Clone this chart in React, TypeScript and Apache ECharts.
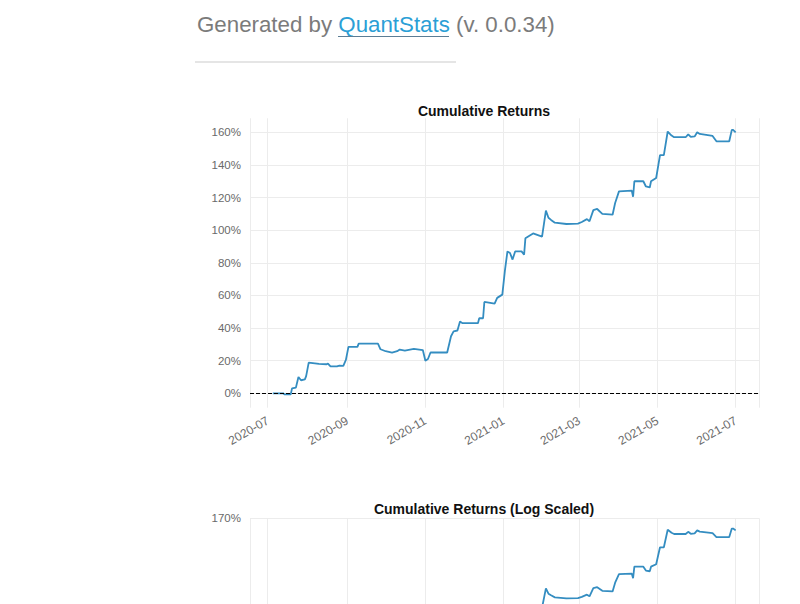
import React, { useEffect, useRef } from "react";
import * as echarts from "echarts";

// ---- data ----
const dates: string[] = [
  "2020-07-05", "2020-07-13", "2020-07-14", "2020-07-19", "2020-07-20", "2020-07-23",
  "2020-07-25", "2020-07-27", "2020-07-30", "2020-07-31", "2020-08-02", "2020-08-10",
  "2020-08-16", "2020-08-17", "2020-08-19", "2020-08-24", "2020-08-26", "2020-08-29",
  "2020-08-31", "2020-09-02", "2020-09-09", "2020-09-10", "2020-09-25", "2020-09-27",
  "2020-10-01", "2020-10-06", "2020-10-10", "2020-10-12", "2020-10-16", "2020-10-20",
  "2020-10-23", "2020-10-30", "2020-11-01", "2020-11-03", "2020-11-05", "2020-11-18",
  "2020-11-21", "2020-11-23", "2020-11-26", "2020-11-28", "2020-11-30", "2020-12-12",
  "2020-12-13", "2020-12-16", "2020-12-17", "2020-12-25", "2020-12-27", "2020-12-31",
  "2021-01-02", "2021-01-04", "2021-01-06", "2021-01-08", "2021-01-10", "2021-01-15",
  "2021-01-17", "2021-01-18", "2021-01-24", "2021-01-31", "2021-02-03", "2021-02-05",
  "2021-02-07", "2021-02-10", "2021-02-19", "2021-02-28", "2021-03-03", "2021-03-07",
  "2021-03-09", "2021-03-12", "2021-03-15", "2021-03-19", "2021-03-27", "2021-03-29",
  "2021-04-01", "2021-04-11", "2021-04-12", "2021-04-13", "2021-04-20", "2021-04-22",
  "2021-04-25", "2021-04-26", "2021-04-30", "2021-05-03", "2021-05-06", "2021-05-09",
  "2021-05-12", "2021-05-14", "2021-05-23", "2021-05-25", "2021-05-27", "2021-05-30",
  "2021-06-01", "2021-06-03", "2021-06-13", "2021-06-16", "2021-06-26", "2021-06-28",
  "2021-06-29", "2021-07-01",
];

const cumulativeReturns: number[] = [
  0, 0, -0.6, -0.6, 3, 3.5,
  10, 8, 8.5, 10.5, 18.8, 18,
  17.8, 18.2, 16.5, 16.5, 17, 16.8,
  20.5, 28.5, 28.5, 30.5, 30.5, 27,
  25.8, 25, 25.8, 26.8, 26.2, 26.8,
  27.2, 26.5, 20, 21, 25, 25,
  35, 38, 38.5, 44, 43, 43,
  46, 46, 56, 55, 58.5, 60.5,
  75, 87, 86, 82, 87, 87,
  85, 95, 98, 96, 112, 107.6,
  106.3, 104.6, 103.8, 104, 105, 106.8,
  105.5, 112.3, 113, 110, 109.5, 116.7,
  123.8, 124.2, 120.5, 130, 130, 126.8,
  126.2, 130, 132, 146, 146, 160.5,
  158, 157, 157, 158.8, 157.2, 157.5,
  160, 159, 157.8, 154.5, 154.5, 161.5,
  161.5, 160,
];

const headerParts = ["Generated by ", "QuantStats", " (v. 0.0.34)"];
const chartTitles = ["Cumulative Returns", "Cumulative Returns (Log Scaled)"];
const xRange = ["2020-06-17 05:00", "2021-07-19 05:00"];
const topYRange = [-8.83, 168.6];
const bottomYRange = [0, 170];
const bottomYInterval = 170;

const LINE_COLOR = "#348dc1";
const GRID_COLOR = "#ececec";
const LABEL_COLOR = "#6a6a6a";
const FONT = "'Liberation Sans', Arial, Helvetica, sans-serif";

export default function App() {
  const ref = useRef<HTMLDivElement>(null);

  useEffect(() => {
    if (!ref.current) return;
    const chart = echarts.init(ref.current, undefined, { renderer: "svg" });
    const seriesData = dates.map((d, i) => [d, cumulativeReturns[i]]);

    const xAxisCommon = (gridIndex: number, showLabels: boolean) => ({
      type: "time" as const,
      gridIndex,
      min: xRange[0],
      max: xRange[1],
      splitNumber: 5,
      axisLine: { show: false },
      axisTick: { show: false },
      axisLabel: {
        show: showLabels,
        rotate: 30,
        margin: 12,
        color: LABEL_COLOR,
        fontSize: 12,
        fontFamily: FONT,
        formatter: (v: number) => echarts.time.format(v, "{yyyy}-{MM}", false),
      },
      splitLine: { show: true, lineStyle: { color: GRID_COLOR, width: 1 } },
    });

    const option: any = {
      animation: false,
      backgroundColor: "#ffffff",
      textStyle: { fontFamily: FONT },
      graphic: [
        {
          type: "text",
          x: 197,
          y: 24,
          style: {
            text: `{a|${headerParts[0]}}{b|${headerParts[1]}}{a|${headerParts[2]}}`,
            verticalAlign: "middle",
            rich: {
              a: { fontSize: 22.3, fontFamily: FONT, fill: "#7b7b7b" },
              b: { fontSize: 22.3, fontFamily: FONT, fill: "#2b9fd6" },
            },
          },
        },
        {
          type: "line",
          shape: { x1: 338, y1: 36.5, x2: 449, y2: 36.5 },
          style: { stroke: "#5b7d95", lineWidth: 1.2 },
        },
        {
          type: "line",
          shape: { x1: 195, y1: 62, x2: 456, y2: 62 },
          style: { stroke: "#dddddd", lineWidth: 1.5 },
        },
        {
          type: "text",
          x: 484,
          y: 111,
          style: {
            text: chartTitles[0],
            align: "center",
            verticalAlign: "middle",
            fontSize: 14,
            fontWeight: "bold",
            fontFamily: FONT,
            fill: "#111111",
          },
        },
        {
          type: "text",
          x: 484,
          y: 509,
          style: {
            text: chartTitles[1],
            align: "center",
            verticalAlign: "middle",
            fontSize: 14,
            fontWeight: "bold",
            fontFamily: FONT,
            fill: "#111111",
          },
        },
      ],
      grid: [
        { left: 250, top: 118.3, width: 509, height: 289.4, containLabel: false },
        { left: 250, top: 518.3, width: 509, height: 205.5, containLabel: false },
      ],
      xAxis: [xAxisCommon(0, true), xAxisCommon(1, false)],
      yAxis: [
        {
          type: "value",
          gridIndex: 0,
          min: topYRange[0],
          max: topYRange[1],
          splitNumber: 9,
          axisLine: { show: false },
          axisTick: { show: false },
          axisLabel: {
            margin: 9,
            color: LABEL_COLOR,
            fontSize: 11.5,
            fontFamily: FONT,
            showMinLabel: false,
            showMaxLabel: false,
            formatter: (v: number) => `${Math.round(v)}%`,
          },
          splitLine: {
            show: true,
            showMinLine: false,
            showMaxLine: false,
            lineStyle: { color: GRID_COLOR, width: 1 },
          },
        },
        {
          type: "value",
          gridIndex: 1,
          min: bottomYRange[0],
          max: bottomYRange[1],
          interval: bottomYInterval,
          axisLine: { show: false },
          axisTick: { show: false },
          axisLabel: {
            margin: 9,
            color: LABEL_COLOR,
            fontSize: 11.5,
            fontFamily: FONT,
            showMinLabel: false,
            formatter: (v: number) => `${Math.round(v)}%`,
          },
          splitLine: { show: true, showMinLine: false, lineStyle: { color: GRID_COLOR, width: 1 } },
        },
      ],
      series: [
        {
          type: "line",
          xAxisIndex: 0,
          yAxisIndex: 0,
          data: seriesData,
          showSymbol: false,
          symbol: "none",
          lineStyle: { color: LINE_COLOR, width: 1.8 },
          markLine: {
            silent: true,
            symbol: "none",
            label: { show: false },
            lineStyle: { color: "#000000", type: [4, 2], width: 1 },
            data: [{ yAxis: 0 }],
          },
          z: 3,
        },
        {
          type: "line",
          xAxisIndex: 1,
          yAxisIndex: 1,
          data: seriesData,
          showSymbol: false,
          symbol: "none",
          lineStyle: { color: LINE_COLOR, width: 1.8 },
          z: 3,
        },
      ],
    };

    chart.setOption(option);
    return () => chart.dispose();
  }, []);

  return (
    <div
      style={{
        position: "absolute",
        left: 0,
        top: 0,
        width: 800,
        height: 604,
        overflow: "hidden",
        background: "#fff",
      }}
    >
      <div ref={ref} style={{ width: 800, height: 760 }} />
    </div>
  );
}
